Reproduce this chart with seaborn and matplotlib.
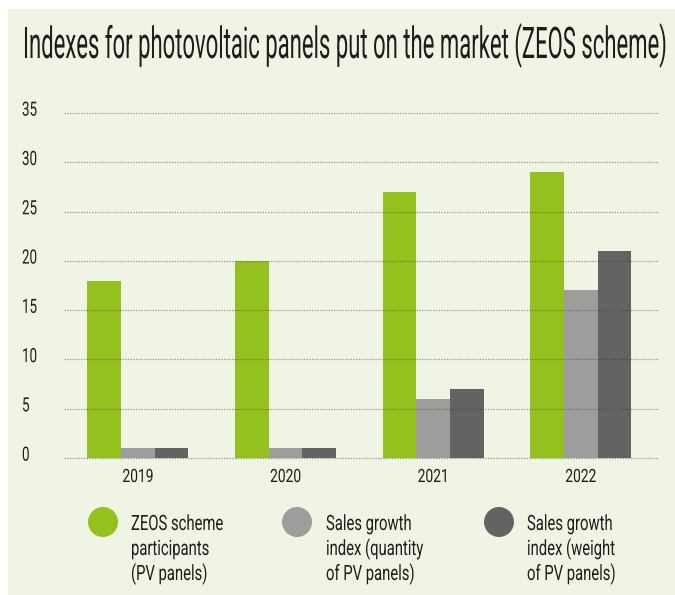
import matplotlib
matplotlib.use("Agg")
import numpy as np
import pandas as pd
import seaborn as sns
import matplotlib.pyplot as plt
from matplotlib import patheffects
from matplotlib.transforms import Affine2D, blended_transform_factory, ScaledTranslation
from matplotlib.patches import Rectangle, Ellipse

# ---------------- data ----------------
years = ["2019", "2020", "2021", "2022"]
series = ["ZEOS scheme participants (PV panels)",
          "Sales growth index (quantity of PV panels)",
          "Sales growth index (weight of PV panels)"]
legend_lines = [["ZEOS scheme", "participants", "(PV panels)"],
                ["Sales growth", "index (quantity", "of PV panels)"],
                ["Sales growth", "index (weight", "of PV panels)"]]
participants = [18, 20, 27, 29]
quantity_index = [1, 1, 6, 17]
weight_index = [1, 1, 7, 21]
y_ticks = [0, 5, 10, 15, 20, 25, 30, 35]
title = "Indexes for photovoltaic panels put on the market (ZEOS scheme)"

colors = ["#95c11f", "#9d9d9c", "#636363"]
BG = "#f0f4e5"
INK = "#1d1d1b"

df = pd.DataFrame({
    "year": years * 3,
    "series": [series[0]] * 4 + [series[1]] * 4 + [series[2]] * 4,
    "value": participants + quantity_index + weight_index,
})


# ---------------- helpers ----------------
class Stretch(patheffects.AbstractPathEffect):
    """Vertically stretch glyph outlines about the baseline (condensed look)."""
    def __init__(self, sy):
        super().__init__()
        self.sy = sy

    def draw_path(self, renderer, gc, tpath, affine, rgbFace=None):
        t = Affine2D().scale(1.0, self.sy)
        renderer.draw_path(gc, tpath, t + affine, rgbFace)


W, H = 675, 595
CAP = 0.711  # Roboto cap-height / em
sns.set_style("white")
plt.rcParams["font.family"] = ["Roboto", "DejaVu Sans"]

fig = plt.figure(figsize=(W / 100, H / 100), dpi=100)
fig.patch.set_facecolor("white")
fig.patches.append(Rectangle((8 / W, 0), 1 - 8 / W, 1 - 9 / H,
                             transform=fig.transFigure, facecolor=BG,
                             edgecolor="none", zorder=-10))
fig.canvas.draw()
r = fig.canvas.get_renderer()


def fit(sample, width_px, cap_px):
    """font size giving the wanted width, and the stretch giving the cap height"""
    t = fig.text(0, 0, sample, fontsize=20)
    w = t.get_window_extent(r).width
    t.remove()
    size = 20 * width_px / w
    sy = cap_px / (CAP * size * 100 / 72)
    return size, sy


# axes geometry: value 0 at y=458 px, value 35 at y=113 px
ppu = (458 - 113) / 35.0
ylo, yhi = -0.2, 35.3
bot_px = 458 + (0 - ylo) * ppu
top_px = 113 - (yhi - 35) * ppu
ax = fig.add_axes([64 / W, 1 - bot_px / H, 595 / W, (bot_px - top_px) / H])
ax.set_facecolor("none")

sns.barplot(data=df, x="year", y="value", hue="series", order=years,
            hue_order=series, palette=colors, saturation=1, width=0.684,
            linewidth=0, legend=False, ax=ax)

ax.set_xlim(-0.5, 3.53)
ax.set_ylim(ylo, yhi)
ax.set_yticks(y_ticks)
ax.set_xlabel("")
ax.set_ylabel("")
for s in ax.spines.values():
    s.set_visible(False)
ax.set_axisbelow(False)
ax.yaxis.grid(True, color="#3c3c3c", alpha=0.45, lw=0.9, linestyle=(0, (1.2, 1.0)))
ax.xaxis.grid(False)
ax.tick_params(axis="both", length=0, labelleft=False, labelbottom=False)

# y tick labels (left aligned at x=22 px, baseline 2.7 px below grid line)
fs_y, sy_y = fit("35", 15, 14)
ylab_tr = blended_transform_factory(ax.transAxes, ax.transData) + \
    ScaledTranslation(-42 / 100, -2.7 / 100, fig.dpi_scale_trans)
for v in y_ticks:
    ax.text(0, v, str(v), transform=ylab_tr, ha="left", va="baseline",
            fontsize=fs_y, color=INK, path_effects=[Stretch(sy_y)])

# x tick labels (centred under groups, baseline at y=482 px)
fs_x, sy_x = fit("2019", 31, 13)
xlab_tr = blended_transform_factory(ax.transData, ax.transAxes) + \
    ScaledTranslation(0, -(482 - bot_px) / 100, fig.dpi_scale_trans)
for pos, yr in zip(ax.get_xticks(), years):
    ax.text(pos, 0, yr, transform=xlab_tr, ha="center", va="baseline",
            fontsize=fs_x, color=INK, path_effects=[Stretch(sy_x)])

# title
fs_t, sy_t = fit(title, 642, 31)
fig.text(23 / W, 1 - 58 / H, title, ha="left", va="baseline",
         fontsize=fs_t, color=INK, path_effects=[Stretch(sy_t)])

# legend
fs_l, sy_l = fit("ZEOS scheme", 92, 15)
circ_x = [103, 297, 499]
text_x = [131, 326, 527]
baselines = [530, 555, 580]
for cx, tx, lines, col in zip(circ_x, text_x, legend_lines, colors):
    fig.patches.append(Ellipse((cx / W, 1 - 522 / H), 30 / W, 30 / H,
                               transform=fig.transFigure, facecolor=col,
                               edgecolor="none"))
    for line, by in zip(lines, baselines):
        fig.text(tx / W, 1 - by / H, line, ha="left", va="baseline",
                 fontsize=fs_l, color=INK, path_effects=[Stretch(sy_l)])

fig.savefig("out.png", dpi=100)
